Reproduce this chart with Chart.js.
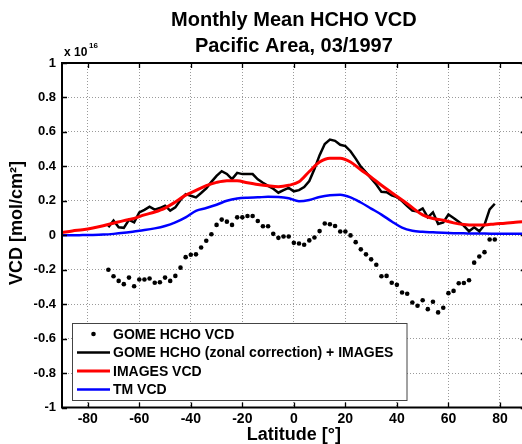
<!DOCTYPE html>
<html>
<head>
<meta charset="utf-8">
<script src="https://cdn.jsdelivr.net/npm/chart.js@4.4.0/dist/chart.umd.min.js"></script>
<style>
    html, body { margin: 0; padding: 0; background: #fff; overflow: hidden; }
    #wrap { width: 530px; height: 444px; }
</style>
</head>
<body>
<div id="wrap"><canvas id="myChart" width="530" height="444"></canvas></div>
<script>
// values in units of 1e16 molec/cm2
const gomeLat = [-72, -70, -68, -66, -64, -62, -60, -58, -56, -54, -52, -50, -48, -46, -44, -42, -40, -38,
    -36, -34, -32, -30, -28, -26, -24, -22, -20, -18, -16, -14, -12, -10, -8, -6, -4, -2,
    0, 2, 4, 6, 8, 10, 12, 14, 16, 18, 20, 22, 24, 26, 28, 30, 32, 34, 36, 38,
    40, 42, 44, 46, 48, 50, 52, 54, 56, 58, 60, 62, 64, 66, 68, 70, 72, 74, 76, 78];
const gomeVcd = [-0.200, -0.238, -0.265, -0.284, -0.246, -0.296, -0.257, -0.257, -0.251, -0.276,
    -0.273, -0.246, -0.265, -0.236, -0.188, -0.127, -0.113, -0.111, -0.071, -0.032,
    0.006, 0.060, 0.091, 0.079, 0.060, 0.104, 0.104, 0.112, 0.112, 0.083,
    0.052, 0.052, 0.008, -0.015, -0.007, -0.007,
    -0.044, -0.048, -0.055, -0.030, -0.013, 0.024, 0.068, 0.064, 0.054, 0.022,
    0.022, -0.001, -0.040, -0.082, -0.111, -0.140, -0.171, -0.238, -0.236, -0.276,
    -0.288, -0.332, -0.340, -0.390, -0.409, -0.377, -0.429, -0.386, -0.448, -0.421,
    -0.336, -0.323, -0.279, -0.277, -0.261, -0.159, -0.123, -0.098, -0.025, -0.025];
const zonalVcd = [0.046, 0.085, 0.046, 0.043, 0.089, 0.075, 0.133, 0.147, 0.166, 0.149,
    0.158, 0.172, 0.143, 0.162, 0.205, 0.239, 0.229, 0.220, 0.245, 0.272,
    0.310, 0.345, 0.372, 0.356, 0.326, 0.362, 0.355, 0.356, 0.355, 0.325,
    0.305, 0.287, 0.270, 0.247, 0.262, 0.275,
    0.255, 0.262, 0.280, 0.315, 0.385, 0.465, 0.530, 0.555, 0.548, 0.525,
    0.518, 0.488, 0.445, 0.398, 0.365, 0.330, 0.295, 0.252, 0.250, 0.232,
    0.222, 0.198, 0.170, 0.143, 0.138, 0.156, 0.104, 0.133, 0.066, 0.075,
    0.120, 0.100, 0.078, 0.055, 0.023, 0.046, 0.023, 0.060, 0.150, 0.183];

const modelLat = [-90, -86, -82, -78, -74, -70, -66, -62, -58, -54, -50, -46, -42, -38, -34, -30,
    -26, -22, -18, -14, -10, -6, -2, 2, 6, 10, 14, 18, 22, 26, 30, 34, 38, 42, 46, 50,
    54, 58, 62, 66, 70, 74, 78, 82, 86, 90];
const imagesVcd = [0.015, 0.025, 0.032, 0.042, 0.055, 0.070, 0.085, 0.098, 0.118, 0.135,
    0.158, 0.193, 0.233, 0.260, 0.288, 0.307, 0.317, 0.316, 0.305, 0.295,
    0.287, 0.282, 0.290, 0.310, 0.370, 0.425, 0.447, 0.447, 0.425, 0.380,
    0.337, 0.290, 0.247, 0.205, 0.160, 0.118, 0.097, 0.087, 0.072, 0.063,
    0.060, 0.060, 0.066, 0.070, 0.076, 0.080];
const tmVcd = [0.000, 0.000, 0.001, 0.002, 0.004, 0.008, 0.014, 0.022, 0.030, 0.040,
    0.054, 0.075, 0.104, 0.142, 0.158, 0.177, 0.200, 0.213, 0.218, 0.220,
    0.223, 0.222, 0.215, 0.198, 0.205, 0.222, 0.232, 0.235, 0.220, 0.190,
    0.155, 0.120, 0.080, 0.044, 0.026, 0.020, 0.017, 0.014, 0.012, 0.011,
    0.010, 0.010, 0.009, 0.008, 0.008, 0.008];

const xTicks = [-80, -60, -40, -20, 0, 20, 40, 60, 80];
const yTicks = [-1, -0.8, -0.6, -0.4, -0.2, 0, 0.2, 0.4, 0.6, 0.8, 1];

const FONT = "'Liberation Sans', Arial, sans-serif";
Chart.defaults.font.family = FONT;
Chart.defaults.color = '#000';

const toPoints = (xs, ys) => xs.map((x, i) => ({ x, y: ys[i] }));

// frame, inward ticks, exponent, y title and the boxed legend
const framePlugin = {
    id: 'frame',
    afterDraw(chart) {
        const { ctx, chartArea: a, scales: { x, y } } = chart;
        ctx.save();

        // legend
        const lx = 72, ly = 323, lw = 334.5, lh = 77;
        ctx.fillStyle = '#fff';
        ctx.fillRect(lx, ly, lw, lh);
        ctx.strokeStyle = '#444';
        ctx.lineWidth = 1;
        ctx.strokeRect(lx + 0.5, ly + 0.5, lw, lh);
        ctx.font = 'bold 14px ' + FONT;
        ctx.textBaseline = 'middle';
        ctx.textAlign = 'left';
        chart.data.datasets.forEach((ds, i) => {
            const rowY = 334 + i * 18.5;
            if (ds.showLine === false) {
                ctx.fillStyle = ds.pointBackgroundColor;
                ctx.beginPath();
                ctx.arc(93.5, rowY, ds.pointRadius, 0, Math.PI * 2);
                ctx.fill();
            } else {
                ctx.strokeStyle = ds.borderColor;
                ctx.lineWidth = ds.borderWidth;
                ctx.beginPath();
                ctx.moveTo(77, rowY);
                ctx.lineTo(110, rowY);
                ctx.stroke();
            }
            ctx.fillStyle = '#000';
            ctx.fillText(ds.label, 113, rowY + 1);
        });

        // axes box + inward ticks
        ctx.strokeStyle = '#000';
        ctx.lineWidth = 2;
        ctx.strokeRect(a.left, a.top, a.right - a.left, a.bottom - a.top);
        ctx.lineWidth = 1.3;
        ctx.beginPath();
        x.ticks.forEach(t => {
            const px = Math.round(x.getPixelForValue(t.value)) + 0.5;
            ctx.moveTo(px, a.bottom); ctx.lineTo(px, a.bottom - 5);
            ctx.moveTo(px, a.top); ctx.lineTo(px, a.top + 5);
        });
        y.ticks.forEach(t => {
            const py = Math.round(y.getPixelForValue(t.value)) + 0.5;
            ctx.moveTo(a.left, py); ctx.lineTo(a.left + 5, py);
            ctx.moveTo(a.right, py); ctx.lineTo(a.right - 5, py);
        });
        ctx.stroke();

        // exponent
        ctx.fillStyle = '#000';
        ctx.textBaseline = 'alphabetic';
        ctx.font = 'bold 12px ' + FONT;
        ctx.fillText('x 10', 64, 56);
        ctx.font = 'bold 8px ' + FONT;
        ctx.fillText('16', 89, 48);

        // y axis title
        ctx.translate(17.5, 223);
        ctx.rotate(-Math.PI / 2);
        ctx.textAlign = 'center';
        ctx.textBaseline = 'middle';
        ctx.font = 'bold 18px ' + FONT;
        ctx.fillText('VCD [mol/cm²]', 0, 0);
        ctx.restore();
    }
};

const ctx = document.getElementById('myChart').getContext('2d');
const myChart = new Chart(ctx, {
    type: 'line',
    data: {
        datasets: [{
            label: 'GOME HCHO VCD',
            data: toPoints(gomeLat, gomeVcd),
            showLine: false,
            pointRadius: 2.3,
            pointBorderWidth: 0,
            pointBackgroundColor: '#000',
            borderColor: '#000',
            order: 0
        }, {
            label: 'GOME HCHO (zonal correction) + IMAGES',
            data: toPoints(gomeLat, zonalVcd),
            borderColor: '#000',
            borderWidth: 2.5,
            pointRadius: 0,
            tension: 0,
            order: 2
        }, {
            label: 'IMAGES VCD',
            data: toPoints(modelLat, imagesVcd),
            borderColor: '#ff0000',
            borderWidth: 3,
            pointRadius: 0,
            cubicInterpolationMode: 'monotone',
            order: 1
        }, {
            label: 'TM VCD',
            data: toPoints(modelLat, tmVcd),
            borderColor: '#0000ff',
            borderWidth: 2.5,
            pointRadius: 0,
            cubicInterpolationMode: 'monotone',
            order: 3
        }]
    },
    options: {
        responsive: false,
        animation: false,
        devicePixelRatio: 1,
        layout: { padding: { left: 0, right: 4.3, top: 0, bottom: 0 } },
        plugins: {
            legend: { display: false },
            tooltip: { enabled: false },
            title: {
                display: true,
                fullSize: false,
                text: ['Monthly Mean HCHO VCD', 'Pacific Area, 03/1997'],
                color: '#000',
                font: { size: 20, weight: 'bold', lineHeight: 1.3 },
                padding: { top: 7.4, bottom: 3.6 }
            }
        },
        scales: {
            x: {
                type: 'linear',
                min: -90,
                max: 90,
                afterBuildTicks: (scale) => { scale.ticks = xTicks.map(v => ({ value: v })); },
                afterFit: (scale) => { scale.height = 36.5; },
                grid: { color: '#9a9a9a', lineWidth: 1, drawTicks: false },
                border: { display: false, dash: [1, 2] },
                ticks: {
                    autoSkip: false,
                    maxRotation: 0,
                    padding: 3,
                    color: '#000',
                    font: { size: 14, weight: 'bold' }
                },
                title: {
                    display: true,
                    text: 'Latitude [°]',
                    color: '#000',
                    font: { size: 18, weight: 'bold', lineHeight: 1 },
                    padding: { top: 0, bottom: 0 }
                }
            },
            y: {
                type: 'linear',
                min: -1,
                max: 1,
                afterBuildTicks: (scale) => { scale.ticks = yTicks.map(v => ({ value: v })); },
                afterFit: (scale) => { scale.width = 62; },
                grid: { color: '#9a9a9a', lineWidth: 1, drawTicks: false },
                border: { display: false, dash: [1, 2] },
                ticks: {
                    padding: 6,
                    color: '#000',
                    font: { size: 13, weight: 'bold' },
                    callback: (v) => String(v)
                }
            }
        }
    },
    plugins: [framePlugin]
});
</script>
</body>
</html>
